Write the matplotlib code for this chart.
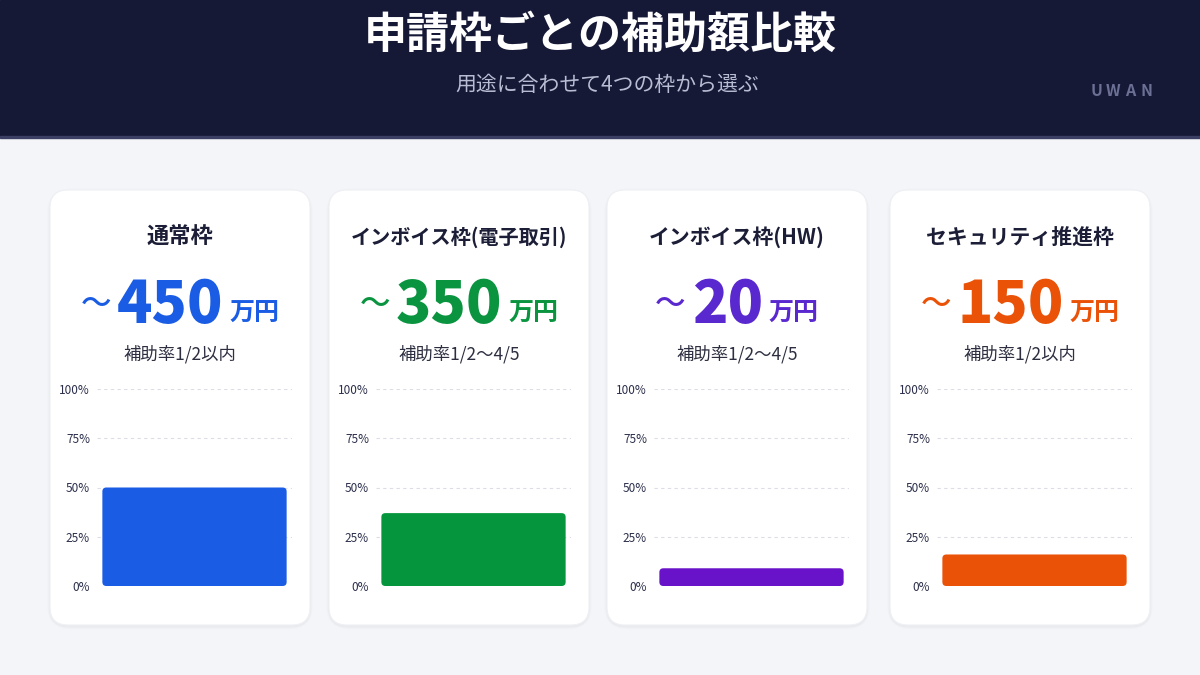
import matplotlib
matplotlib.use("Agg")
import matplotlib.pyplot as plt
from matplotlib.patches import FancyBboxPatch, Rectangle

plt.rcParams['font.family'] = ['Noto Sans CJK JP', 'DejaVu Sans']

# ---- data ----
title = "申請枠ごとの補助額比較"
subtitle = "用途に合わせて4つの枠から選ぶ"
brand = "UWAN"
categories = ["通常枠", "インボイス枠(電子取引)", "インボイス枠(HW)", "セキュリティ推進枠"]
amounts = ["450", "350", "20", "150"]
amount_unit = "万円"
rates = ["補助率1/2以内", "補助率1/2～4/5", "補助率1/2～4/5", "補助率1/2以内"]
bar_values = [50, 37, 9, 16]           # percent
y_ticks = [0, 25, 50, 75, 100]
y_tick_labels = ["0%", "25%", "50%", "75%", "100%"]
colors = ["#1a5ce3", "#05963d", "#6812c9", "#ea5207"]
text_colors = ["#1a5ce3", "#0a9440", "#5a28cf", "#ea5207"]

# ---- figure ----
W, H = 1200, 675
fig = plt.figure(figsize=(12, 6.75), dpi=100)
fig.patch.set_facecolor("#f4f5f8")
bg = fig.add_axes([0, 0, 1, 1])
bg.set_xlim(0, W)
bg.set_ylim(H, 0)
bg.axis("off")

# header
bg.add_patch(Rectangle((0, 0), W, 137, color="#151936", zorder=1))
bg.add_patch(Rectangle((0, 136), W, 1.5, color="#3a3f63", zorder=1))
bg.text(600, 35, title, color="white", fontsize=31, fontweight="bold",
        ha="center", va="center", zorder=3)
bg.text(607, 85, subtitle, color="#b9bdd3", fontsize=15,
        ha="center", va="center", zorder=3)
for i, ch in enumerate(brand):
    bg.text(1097 + i * 16.5, 91, ch, color="#6b7094", fontsize=11.5,
            fontweight="bold", ha="center", va="center", zorder=3)

card_lefts = [50, 329, 607, 890]
card_w, card_top, card_h = 260, 190, 435
title_sizes = [16, 14.5, 15, 15]

fig.canvas.draw()
renderer = fig.canvas.get_renderer()

for i in range(4):
    x0 = card_lefts[i]
    cx = x0 + card_w / 2
    # shadow
    for k, a in enumerate([0.018, 0.012, 0.008]):
        s = (k + 1) * 2
        bg.add_patch(FancyBboxPatch((x0 - s / 2, card_top - s / 2 + 1.5), card_w + s, card_h + s,
                                    boxstyle="round,pad=0,rounding_size=%d" % (18 + s),
                                    fc="#1c2240", ec="none", alpha=a, zorder=1.5))
    bg.add_patch(FancyBboxPatch((x0, card_top), card_w, card_h,
                                boxstyle="round,pad=0,rounding_size=18",
                                fc="white", ec="#eef0f4", lw=0.8, zorder=2))
    bg.text(cx, 237, categories[i], color="#1b1e36", fontsize=title_sizes[i],
            fontweight="bold", ha="center", va="center", zorder=3)

    # amount row
    t1 = bg.text(0, 304, "～", color=text_colors[i], fontsize=22, fontweight="medium",
                 ha="left", va="center", zorder=3)
    t2 = bg.text(0, 323, amounts[i], color=text_colors[i], fontsize=42, fontweight=900,
                 ha="left", va="baseline", zorder=3)
    t3 = bg.text(0, 321, amount_unit, color=text_colors[i], fontsize=18, fontweight="bold",
                 ha="left", va="baseline", zorder=3)
    w1 = t1.get_window_extent(renderer).width
    w2 = t2.get_window_extent(renderer).width
    w3 = t3.get_window_extent(renderer).width
    gap1, gap2 = 6, 6
    total = w1 + gap1 + w2 + gap2 + w3
    start = cx - total / 2
    t1.set_x(start)
    t2.set_x(start + w1 + gap1)
    t3.set_x(start + w1 + gap1 + w2 + gap2)

    bg.text(cx, 354, rates[i], color="#2d2f40", fontsize=12.5,
            ha="center", va="center", zorder=3)

    # mini bar chart
    ax_l = x0 + 47
    ax_w = 195
    y100, y0 = 389, 586
    ax = fig.add_axes([ax_l / W, 1 - y0 / H, ax_w / W, (y0 - y100) / H])
    ax.set_facecolor("none")
    ax.set_zorder(5)
    ax.set_xlim(-0.5, 0.5)
    ax.set_ylim(0, 100)
    bars = ax.bar([0], [bar_values[i]], width=0.945, color=colors[i], zorder=3)
    xr_px = ax_w
    asp = (100 / (y0 - y100)) / (1.0 / xr_px)
    r = 4 / xr_px
    for b in bars:
        b.set_visible(False)
        ax.add_patch(FancyBboxPatch((b.get_x(), b.get_y()), b.get_width(), b.get_height(),
                                    boxstyle="round,pad=0,rounding_size=%f" % r,
                                    mutation_aspect=asp, fc=colors[i], ec="none", zorder=3))
    ax.set_yticks(y_ticks)
    ax.set_yticklabels(y_tick_labels)
    ax.set_xticks([])
    ax.tick_params(axis="y", length=0, pad=5, labelsize=8.5, labelcolor="#2b2f4a")
    ax.yaxis.grid(True, color="#dcdde6", linestyle=(0, (3, 3)), linewidth=0.8, zorder=0)
    ax.get_ygridlines()[0].set_visible(False)
    for sp in ax.spines.values():
        sp.set_visible(False)

fig.savefig("out.png", dpi=100, facecolor=fig.get_facecolor())
